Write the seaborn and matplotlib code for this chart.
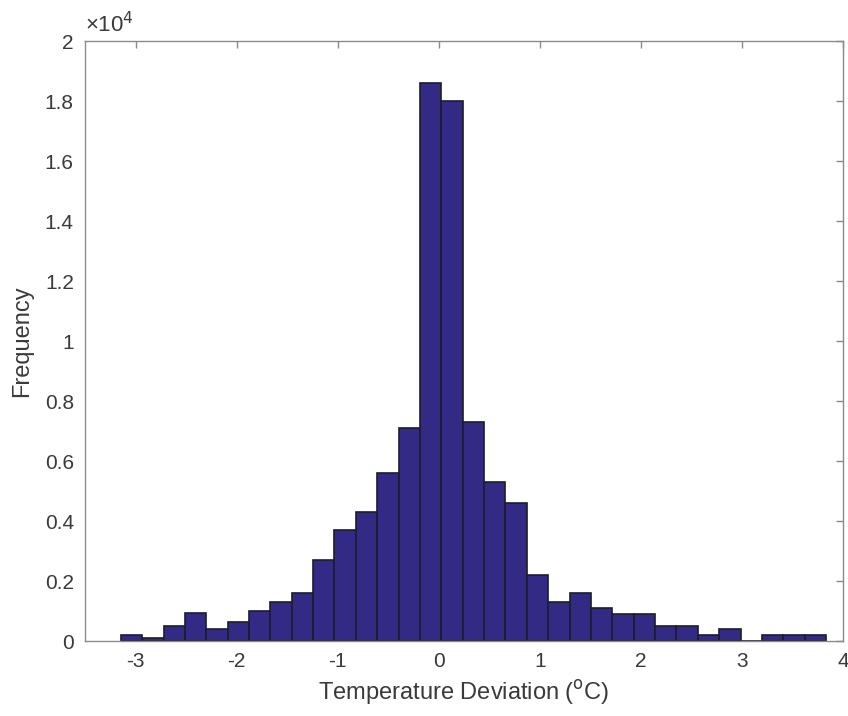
import numpy as np
import pandas as pd
import matplotlib
matplotlib.use("Agg")
import matplotlib.pyplot as plt
import seaborn as sns
from matplotlib.ticker import FuncFormatter

# Bin range (degC), number of bins and counts
bin_lo = -3.146
bin_hi = 3.832
n_bins = 33
counts = [200, 90, 500, 920, 390, 620, 1010, 1310, 1610, 2700, 3700,
          4300, 5600, 7100, 18600, 18000, 7300, 5300, 4600, 2200, 1310,
          1610, 1090, 900, 900, 500, 500, 200, 390, 0, 200, 200, 200]

edges = np.linspace(bin_lo, bin_hi, n_bins + 1)
centres = (edges[:-1] + edges[1:]) / 2
df = pd.DataFrame({"dev": centres, "count": counts})

sns.set_style("white")
plt.rcParams["font.family"] = ["Liberation Sans", "DejaVu Sans"]

fig = plt.figure(figsize=(8.48, 7.16), dpi=100)
ax = fig.add_axes([0.1002, 0.1047, 0.894, 0.838])

sns.histplot(data=df, x="dev", weights="count", bins=n_bins,
             binrange=(bin_lo, bin_hi), ax=ax,
             color="#332a86", edgecolor="#1c1c2c", linewidth=1.2, alpha=1.0)

ax.set_xlim(-3.5, 4)
ax.set_ylim(0, 20000)
ax.set_xticks(np.arange(-3, 5, 1))
ax.set_yticks(np.arange(0, 20001, 2000))
ax.xaxis.set_major_formatter(FuncFormatter(lambda v, p: f"{v:g}"))
ax.yaxis.set_major_formatter(FuncFormatter(lambda v, p: f"{v/1e4:g}"))

spine_col = "#8a8a8a"
text_col = "#3a3a3a"
for s in ax.spines.values():
    s.set_visible(True)
    s.set_color(spine_col)
    s.set_linewidth(1.0)
ax.tick_params(direction="in", length=5, width=1.0, color=spine_col,
               labelcolor=text_col, labelsize=15, top=True, right=True,
               pad=8)

ax.set_xlabel("Temperature Deviation ($^{\\rm o}$C)", fontsize=17,
              color=text_col, labelpad=5)
ax.set_ylabel("Frequency", fontsize=17, color=text_col, labelpad=8)
ax.text(0.0, 1.006, "×10$^{4}$", transform=ax.transAxes, fontsize=16,
        color=text_col, ha="left", va="bottom")
ax.grid(False)

fig.savefig("out.png", dpi=100, facecolor="white")
